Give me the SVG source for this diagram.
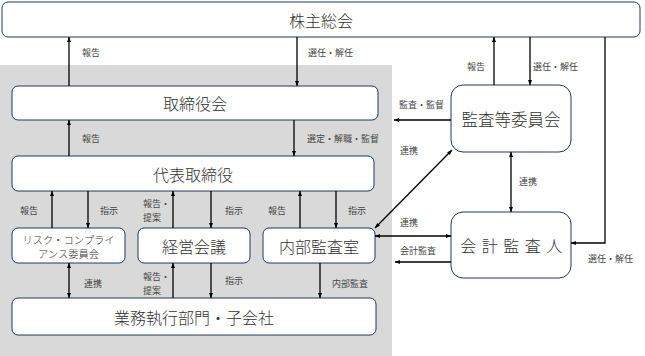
<svg xmlns="http://www.w3.org/2000/svg" width="645" height="356" viewBox="0 0 645 356">
<defs>
<marker id="ah" viewBox="0 0 10 10" refX="10" refY="5" markerWidth="5" markerHeight="5" orient="auto-start-reverse" markerUnits="userSpaceOnUse"><path d="M0,1 L10,5 L0,9 z" fill="#000"/></marker>
</defs>
<style>
.box{fill:#fff;stroke:#1f3864;stroke-width:1}
.t{font-family:"Noto Sans CJK JP","Noto Sans",sans-serif;fill:#333;text-anchor:middle;dominant-baseline:central;font-weight:300}
.big{font-size:16px}
.lbl{font-family:"Noto Sans CJK JP","Noto Sans",sans-serif;fill:#444;font-size:9px;dominant-baseline:central}
.ar{stroke:#000;stroke-width:1.3;fill:none;marker-end:url(#ah)}
.ar2{stroke:#000;stroke-width:1.3;fill:none;marker-end:url(#ah);marker-start:url(#ah)}
</style>
<rect x="0" y="65" width="392" height="291" fill="#d9d9d9"/>
<g id="n-shareholders"><rect class="box" x="2" y="2" width="638" height="35" rx="6"/><text class="t big" x="321" y="19.5">株主総会</text></g>
<g id="n-board"><rect class="box" x="12" y="86" width="366" height="34" rx="6"/><text class="t big" x="195" y="103">取締役会</text></g>
<g id="n-rep"><rect class="box" x="12" y="156" width="362" height="35" rx="6"/><text class="t big" x="193" y="173.5">代表取締役</text></g>
<g id="n-risk"><rect class="box" x="12" y="228" width="113" height="35" rx="6"/><text class="t" x="68.5" y="239" font-size="10.3">リスク・コンプライ</text><text class="t" x="68.5" y="253" font-size="10.3">アンス委員会</text></g>
<g id="n-mgmt"><rect class="box" x="138" y="228" width="112" height="35" rx="6"/><text class="t big" x="194" y="245.5">経営会議</text></g>
<g id="n-audit"><rect class="box" x="263" y="228" width="112" height="35" rx="6"/><text class="t big" x="319" y="245.5">内部監査室</text></g>
<g id="n-ops"><rect class="box" x="12" y="298" width="364" height="37" rx="6"/><text class="t big" x="194" y="316.5">業務執行部門・子会社</text></g>
<g id="n-acb"><rect class="box" x="451" y="85" width="120" height="67" rx="12"/><text class="t" x="511" y="119" font-size="16.5">監査等委員会</text></g>
<g id="n-ext"><rect class="box" x="451" y="212" width="120" height="66" rx="12"/><text class="t big" x="514" y="245" letter-spacing="5.5">会計監査人</text></g>
<g id="connectors">
<line class="ar" x1="69" y1="86" x2="69" y2="37"/>
<line class="ar" x1="297" y1="37" x2="297" y2="86"/>
<line class="ar" x1="494" y1="85" x2="494" y2="37"/>
<line class="ar" x1="530" y1="37" x2="530" y2="85"/>
<polyline class="ar" points="605,37 605,243 571,243"/>
<line class="ar" x1="451" y1="120" x2="394" y2="120"/>
<line class="ar2" x1="375" y1="228" x2="452" y2="150"/>
<line class="ar2" x1="511" y1="152" x2="511" y2="212"/>
<line class="ar2" x1="375" y1="236" x2="451" y2="236"/>
<line class="ar" x1="451" y1="262" x2="395" y2="262"/>
<line class="ar" x1="69" y1="156" x2="69" y2="120"/>
<line class="ar" x1="294" y1="120" x2="294" y2="156"/>
<line class="ar" x1="52" y1="228" x2="52" y2="191"/>
<line class="ar" x1="88" y1="191" x2="88" y2="228"/>
<line class="ar" x1="173" y1="228" x2="173" y2="191"/>
<line class="ar" x1="211" y1="191" x2="211" y2="228"/>
<line class="ar" x1="300" y1="228" x2="300" y2="191"/>
<line class="ar" x1="336" y1="191" x2="336" y2="228"/>
<line class="ar2" x1="69" y1="263" x2="69" y2="298"/>
<line class="ar" x1="173" y1="298" x2="173" y2="263"/>
<line class="ar" x1="211" y1="263" x2="211" y2="298"/>
<line class="ar" x1="320" y1="263" x2="320" y2="298"/>
</g>
<g id="labels">
<text class="lbl" x="82" y="52">報告</text>
<text class="lbl" x="308" y="52">選任・解任</text>
<text class="lbl" x="467" y="66">報告</text>
<text class="lbl" x="533" y="66">選任・解任</text>
<text class="lbl" x="399" y="104">監査・監督</text>
<text class="lbl" x="400" y="150">連携</text>
<text class="lbl" x="519" y="181">連携</text>
<text class="lbl" x="400" y="222">連携</text>
<text class="lbl" x="400" y="250">会計監査</text>
<text class="lbl" x="588" y="258">選任・解任</text>
<text class="lbl" x="82" y="138">報告</text>
<text class="lbl" x="307" y="138">選定・解職・監督</text>
<text class="lbl" x="20" y="210">報告</text>
<text class="lbl" x="100" y="210">指示</text>
<text class="lbl" x="143" y="203">報告・</text>
<text class="lbl" x="143" y="217">提案</text>
<text class="lbl" x="225" y="210">指示</text>
<text class="lbl" x="268" y="210">報告</text>
<text class="lbl" x="348" y="210">指示</text>
<text class="lbl" x="84" y="283">連携</text>
<text class="lbl" x="143" y="276">報告・</text>
<text class="lbl" x="143" y="290">提案</text>
<text class="lbl" x="225" y="280">指示</text>
<text class="lbl" x="332" y="283">内部監査</text>
</g>
</svg>
